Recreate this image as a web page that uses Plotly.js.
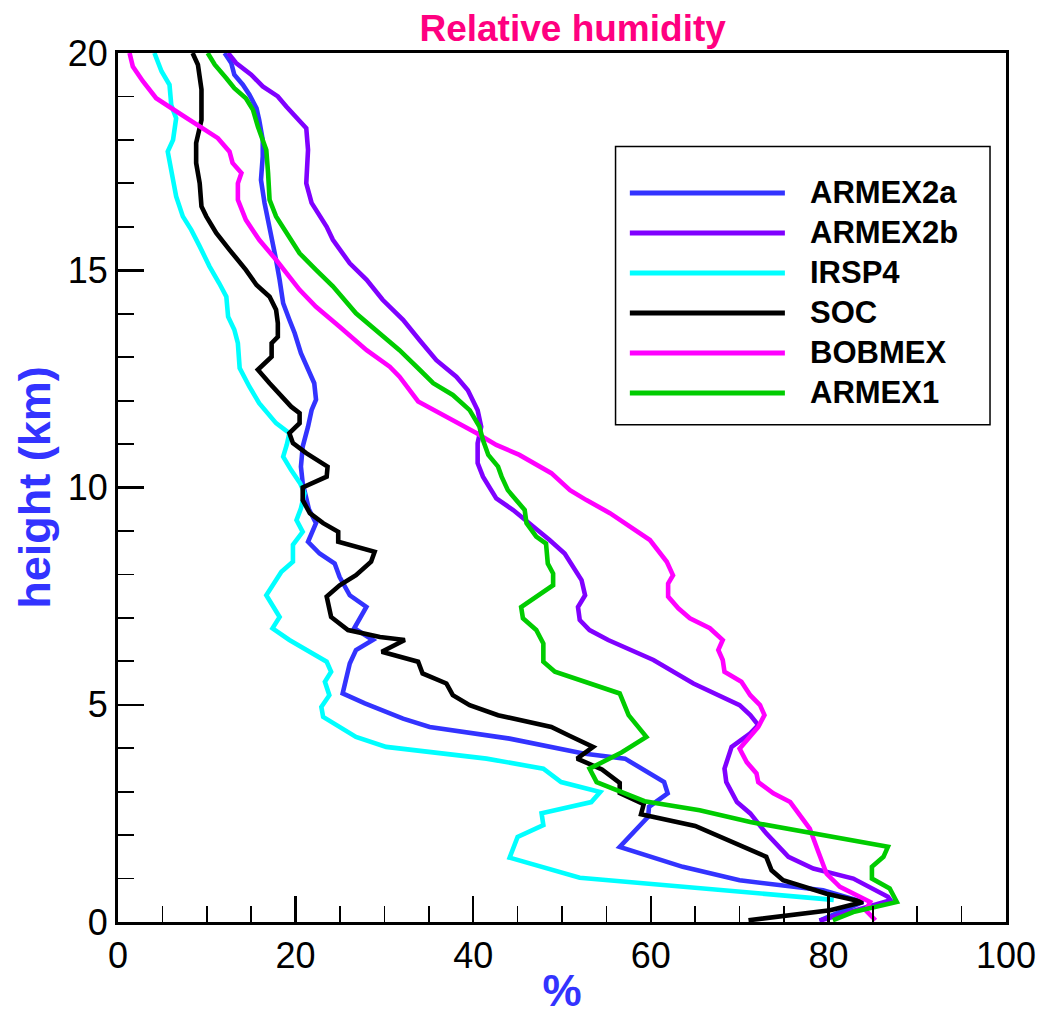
<!DOCTYPE html>
<html>
<head>
<meta charset="utf-8">
<script src="https://cdn.plot.ly/plotly-3.0.1.min.js"></script>
<style>
html,body{margin:0;padding:0;background:#fff;}
#chart{width:1051px;height:1015px;}
</style>
</head>
<body>
<div id="chart"></div>
<script>
// ---------- data ----------
const seriesNames = ['ARMEX2a', 'ARMEX2b', 'IRSP4', 'SOC', 'BOBMEX', 'ARMEX1'];
const seriesColors = ['#3333ff', '#8000ff', '#00ffff', '#000000', '#ff00ff', '#00cc00'];

const armex2a_h  = [20, 19.77, 19.5, 19.27, 19.04, 18.73, 18.46, 18.0, 17.62, 17.08, 16.55, 16.16, 15.7, 15.24, 14.78, 14.24, 13.86, 13.55, 13.09, 12.71, 12.4, 12.02, 11.78, 11.4, 10.94, 10.48, 10.1, 9.5, 9.18, 8.75, 8.48, 8.25, 7.94, 7.52, 7.25, 6.76, 6.49, 6.26, 5.95, 5.26, 5.03, 4.68, 4.49, 4.22, 3.88, 3.76, 3.22, 2.96, 2.65, 2.42, 1.73, 1.27, 0.96, 0.73, 0.46, 0.03];
const armex2a_rh = [12.0, 12.75, 13.1, 14.06, 14.8, 15.6, 15.9, 16.3, 16.3, 16.1, 16.5, 16.9, 17.4, 17.8, 18.2, 18.6, 19.3, 19.9, 20.6, 21.4, 22.1, 22.3, 21.8, 21.4, 20.8, 20.6, 20.8, 21.5, 22.3, 21.4, 22.7, 24.4, 24.96, 26.1, 27.97, 26.6, 28.7, 26.8, 26.1, 25.3, 27.8, 32.1, 35.1, 44.1, 52.4, 57.1, 61.5, 61.9, 59.8, 59.7, 56.5, 63.6, 70.0, 79.4, 83.9, 79.0];

const armex2b_h  = [20, 19.77, 19.5, 19.23, 19.0, 18.77, 18.27, 17.77, 17.0, 16.55, 16.0, 15.7, 15.16, 14.78, 14.32, 13.86, 13.39, 12.93, 12.55, 12.24, 11.78, 11.4, 11.02, 10.56, 10.25, 9.98, 9.75, 9.48, 9.06, 8.79, 8.48, 8.18, 7.87, 7.52, 7.25, 6.95, 6.72, 6.49, 6.03, 5.49, 4.99, 4.76, 4.53, 4.34, 4.03, 3.53, 3.22, 2.76, 2.5, 2.04, 1.5, 1.23, 1.0, 0.58, 0.5, 0.03];
const armex2b_rh = [12.4, 13.3, 15.0, 16.3, 18.0, 18.95, 21.2, 21.4, 21.2, 21.8, 23.5, 24.2, 26.1, 28.0, 29.8, 32.1, 33.97, 35.85, 38.1, 39.4, 40.5, 40.9, 40.5, 40.5, 41.1, 41.9, 42.6, 44.5, 47.1, 48.6, 50.3, 51.2, 52.2, 52.6, 51.8, 52.0, 53.1, 55.2, 60.3, 64.8, 70.0, 71.2, 72.1, 71.2, 69.1, 68.3, 68.5, 69.7, 71.2, 73.0, 75.5, 78.3, 82.8, 86.7, 87.0, 79.0];

const irsp4_h  = [20, 19.58, 19.27, 18.8, 18.5, 18.0, 17.73, 17.24, 16.7, 16.24, 15.93, 15.55, 15.09, 14.7, 14.39, 13.93, 13.63, 13.32, 12.75, 12.32, 11.94, 11.48, 11.25, 10.98, 10.71, 10.4, 10.1, 9.87, 9.52, 9.25, 8.98, 8.68, 8.29, 8.06, 7.52, 7.02, 6.76, 6.49, 6.22, 5.99, 5.76, 5.53, 5.22, 4.95, 4.72, 4.26, 4.03, 3.76, 3.53, 3.22, 2.99, 2.76, 2.5, 2.23, 1.96, 1.48, 1.02, 0.82, 0.51];
const irsp4_rh = [4.1, 4.9, 5.8, 6.0, 6.55, 6.2, 5.6, 6.0, 6.55, 7.3, 8.25, 9.2, 10.3, 11.4, 12.2, 12.4, 13.1, 13.5, 13.7, 14.8, 15.9, 17.8, 19.3, 19.0, 18.6, 19.5, 20.5, 21.0, 20.6, 20.1, 20.8, 19.7, 19.7, 18.4, 16.7, 18.2, 17.4, 19.3, 21.6, 23.5, 24.0, 23.3, 23.8, 22.9, 23.1, 26.8, 30.2, 41.5, 47.9, 49.9, 54.3, 53.3, 47.7, 47.9, 45.0, 44.1, 52.0, 63.0, 80.6];

const soc_h  = [20, 19.73, 19.16, 18.46, 17.93, 17.47, 17.0, 16.47, 16.24, 15.86, 15.47, 15.01, 14.66, 14.39, 14.09, 13.78, 13.47, 13.32, 13.01, 12.71, 12.4, 12.09, 11.86, 11.71, 11.48, 11.25, 11.02, 10.79, 10.48, 10.25, 10.0, 9.71, 9.41, 9.18, 8.98, 8.75, 8.52, 8.29, 7.98, 7.75, 7.49, 7.02, 6.72, 6.56, 6.49, 6.22, 5.99, 5.72, 5.49, 5.22, 4.99, 4.76, 4.49, 4.28, 4.03, 3.76, 3.51, 3.2, 2.97, 2.71, 2.48, 2.21, 1.5, 1.19, 0.96, 0.65, 0.46, 0.27, 0.04];
const soc_rh = [8.4, 9.0, 9.4, 9.4, 8.8, 8.8, 9.2, 9.4, 9.94, 11.06, 12.56, 14.4, 15.6, 17.07, 17.8, 18.0, 18.0, 17.3, 17.3, 15.75, 17.07, 18.4, 19.5, 20.45, 20.45, 19.3, 19.7, 21.2, 23.6, 23.5, 20.8, 20.8, 21.6, 23.1, 24.8, 24.8, 28.9, 28.5, 26.8, 24.96, 23.5, 24.0, 25.9, 29.5, 32.3, 29.7, 33.8, 34.3, 36.98, 37.7, 39.6, 42.8, 48.8, 50.9, 53.5, 51.7, 54.5, 56.5, 56.5, 59.2, 58.9, 65.0, 73.0, 73.6, 74.9, 79.8, 83.9, 80.2, 71.0];

const bobmex_h  = [20, 19.69, 19.35, 18.96, 18.66, 18.31, 18.04, 17.73, 17.47, 17.24, 17.0, 16.62, 16.16, 15.7, 15.24, 14.55, 14.16, 13.7, 13.16, 12.78, 12.55, 11.98, 11.63, 11.25, 10.98, 10.75, 10.33, 9.94, 9.71, 9.41, 8.79, 8.29, 7.98, 7.79, 7.49, 7.22, 6.99, 6.76, 6.49, 6.26, 6.03, 5.76, 5.53, 5.22, 4.99, 4.76, 4.49, 4.18, 3.99, 3.68, 3.42, 3.22, 2.96, 2.76, 2.5, 2.15, 1.65, 1.11, 0.81, 0.58, 0.46, 0.27, 0.04];
const bobmex_rh = [1.3, 1.67, 2.8, 4.3, 6.55, 9.2, 11.25, 12.56, 12.9, 13.9, 13.5, 13.5, 14.4, 15.9, 17.8, 20.45, 22.3, 24.96, 28.0, 30.6, 31.7, 33.8, 36.98, 40.4, 42.6, 45.2, 48.8, 50.9, 52.75, 55.4, 59.9, 61.8, 62.5, 61.95, 61.95, 63.1, 64.4, 66.65, 68.1, 67.6, 68.1, 68.3, 70.2, 71.2, 72.3, 72.8, 72.1, 70.8, 70.0, 70.8, 71.9, 72.1, 73.8, 75.7, 76.6, 77.9, 78.8, 79.8, 81.3, 83.6, 84.7, 84.2, 85.3];

const armex1_h  = [20, 19.73, 19.42, 19.19, 18.96, 18.69, 18.31, 17.77, 17.24, 16.62, 16.24, 15.86, 15.39, 15.01, 14.63, 14.01, 13.47, 13.16, 12.71, 12.4, 12.13, 11.78, 11.4, 11.09, 10.75, 10.48, 10.25, 9.94, 9.48, 9.18, 8.87, 8.71, 8.25, 8.02, 7.75, 7.25, 6.99, 6.72, 6.41, 5.99, 5.76, 5.53, 5.26, 4.76, 4.26, 3.9, 3.53, 3.22, 2.78, 2.57, 2.3, 1.73, 1.5, 1.27, 1.0, 0.77, 0.46, 0.23, 0.04];
const armex1_rh = [10.1, 10.9, 12.2, 13.1, 14.4, 15.2, 15.75, 16.7, 16.9, 17.07, 17.8, 18.95, 20.45, 22.3, 24.2, 26.8, 29.8, 31.7, 33.97, 35.5, 37.7, 39.6, 40.7, 41.1, 41.7, 42.8, 43.2, 43.9, 45.8, 46.0, 47.1, 48.2, 48.4, 49.0, 49.0, 45.4, 45.6, 47.1, 47.9, 47.9, 49.2, 52.4, 56.5, 57.5, 59.5, 56.7, 53.1, 53.9, 59.3, 65.5, 71.2, 86.7, 86.2, 84.9, 84.9, 86.9, 87.7, 82.8, 80.5];

const xTickVals = [0, 20, 40, 60, 80, 100];
const yTickVals = [0, 5, 10, 15, 20];

// ---------- build ----------
const rhData = [armex2a_rh, armex2b_rh, irsp4_rh, soc_rh, bobmex_rh, armex1_rh];
const hData  = [armex2a_h, armex2b_h, irsp4_h, soc_h, bobmex_h, armex1_h];

const FONT = 'Liberation Sans, Arial, Helvetica, sans-serif';

const traces = seriesNames.map((n, i) => ({
  type: 'scatter', mode: 'lines', name: n,
  x: rhData[i], y: hData[i],
  line: {color: seriesColors[i], width: 4.6, shape: 'linear'},
  showlegend: false, hoverinfo: 'x+y+name'
}));

// custom legend (long line samples as in the reference)
const legBox = {x0: 0.5603, x1: 0.982, y0: 0.5723, y1: 0.8925};
const legLineX0 = 0.5764, legLineX1 = 0.751, legTextX = 0.777;
const legRow0 = 0.8389, legStep = 0.04603;
const shapes = [{
  type: 'rect', xref: 'paper', yref: 'paper',
  x0: legBox.x0, x1: legBox.x1, y0: legBox.y0, y1: legBox.y1,
  line: {color: '#000', width: 1.5}, fillcolor: '#fff', layer: 'above'
}];
const annotations = [];
seriesNames.forEach((n, i) => {
  const yy = legRow0 - i * legStep;
  shapes.push({type: 'line', xref: 'paper', yref: 'paper',
    x0: legLineX0, x1: legLineX1, y0: yy, y1: yy,
    line: {color: seriesColors[i], width: 5}, layer: 'above'});
  annotations.push({xref: 'paper', yref: 'paper', x: legTextX, y: yy,
    xanchor: 'left', yanchor: 'middle', showarrow: false, text: n,
    font: {family: FONT, size: 31, color: '#000', weight: 'bold'}});
});

const layout = {
  width: 1051, height: 1015,
  margin: {l: 118, r: 45, t: 53, b: 93, pad: 0},
  paper_bgcolor: '#fff', plot_bgcolor: '#fff',
  showlegend: false,
  title: {
    text: 'Relative humidity', xref: 'paper', x: 0.512, xanchor: 'center',
    yref: 'container', y: 0.972, yanchor: 'middle',
    font: {family: FONT, size: 37, color: '#ff0080', weight: 'bold'}
  },
  xaxis: {
    range: [0, 100], tickvals: xTickVals, ticktext: xTickVals.map(String),
    ticks: 'inside', ticklen: 26, tickwidth: 2.5, tickcolor: '#000',
    minor: {dtick: 5, ticks: 'inside', ticklen: 16, tickwidth: 1.8, tickcolor: '#000', showgrid: false},
    showline: true, linecolor: '#000', linewidth: 3, mirror: true,
    showgrid: false, zeroline: false,
    tickfont: {family: FONT, size: 36, color: '#000'},
    title: {text: '%', standoff: 14, font: {family: FONT, size: 44, color: '#3333ff', weight: 'bold'}}
  },
  yaxis: {
    range: [0, 20], tickvals: yTickVals, ticktext: yTickVals.map(String),
    ticks: 'inside', ticklen: 26, tickwidth: 2.5, tickcolor: '#000',
    minor: {dtick: 1, ticks: 'inside', ticklen: 16, tickwidth: 1.8, tickcolor: '#000', showgrid: false},
    showline: true, linecolor: '#000', linewidth: 3, mirror: true,
    showgrid: false, zeroline: false,
    tickfont: {family: FONT, size: 36, color: '#000'},
    title: {text: 'height (km)', standoff: 4, font: {family: FONT, size: 45, color: '#3333ff', weight: 'bold'}}
  },
  shapes: shapes,
  annotations: annotations
};

Plotly.newPlot('chart', traces, layout, {displayModeBar: false, staticPlot: true});
</script>
</body>
</html>
